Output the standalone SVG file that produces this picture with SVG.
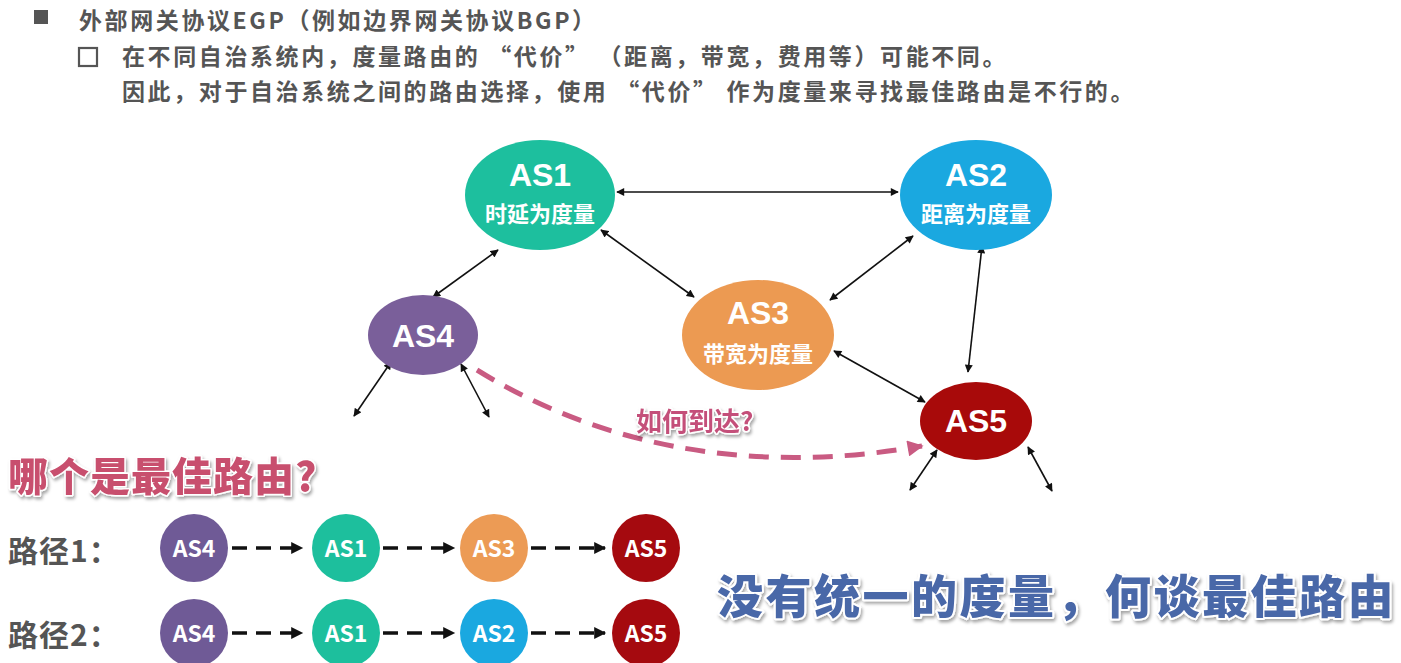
<svg xmlns="http://www.w3.org/2000/svg" width="1401" height="663" viewBox="0 0 1401 663">
<defs>
<marker id="ah" viewBox="0 0 10 10" refX="9" refY="5" markerWidth="9" markerHeight="8" markerUnits="userSpaceOnUse" orient="auto-start-reverse"><path d="M0,0 L10,5 L0,10 z" fill="#111"/></marker>
<marker id="ahp" viewBox="0 0 10 10" refX="9" refY="5" markerWidth="18" markerHeight="16" markerUnits="userSpaceOnUse" orient="auto"><path d="M0,0 L10,5 L0,10 z" fill="#c95b82"/></marker>
<marker id="ahb" viewBox="0 0 10 10" refX="9" refY="5" markerWidth="13" markerHeight="12" markerUnits="userSpaceOnUse" orient="auto"><path d="M0,0 L10,5 L0,10 z" fill="#111"/></marker>
<filter id="sh" x="-5%" y="-20%" width="110%" height="150%"><feDropShadow dx="1.5" dy="2.5" stdDeviation="1.5" flood-color="#000" flood-opacity="0.35"/></filter>
</defs>
<style>
.hd{font-family:"Noto Sans CJK SC","Noto Sans",sans-serif;font-weight:bold;fill:#555;font-size:23px;letter-spacing:2.6px}
.t1{font-family:"Liberation Sans",Arial,sans-serif;font-weight:bold;fill:#fff;font-size:32px;text-anchor:middle}
.t2{font-family:"Noto Sans CJK SC",sans-serif;font-weight:bold;fill:#fff;font-size:22px;text-anchor:middle}
.t3{font-family:"Noto Sans CJK SC","Noto Sans",sans-serif;font-weight:bold;fill:#fff;font-size:23px;text-anchor:middle}
.lk{stroke:#111;stroke-width:1.6;fill:none;marker-start:url(#ah);marker-end:url(#ah)}
.pa{stroke:#111;stroke-width:3.5;fill:none;stroke-dasharray:15 9;marker-end:url(#ahb)}
.pl{font-family:"Noto Sans CJK SC",sans-serif;font-weight:bold;fill:#555;font-size:30px;letter-spacing:1px}
.sd{paint-order:stroke;stroke:#fff;stroke-linejoin:round}
</style>
<rect width="1401" height="663" fill="#fff"/>

<g id="header">
<rect x="34" y="10" width="14" height="14" fill="#555"/>
<text class="hd" x="79" y="29" letter-spacing="2.2">外部网关协议EGP（例如边界网关协议BGP）</text>
<rect x="79" y="48" width="18" height="18" fill="none" stroke="#555" stroke-width="2.2"/>
<text class="hd" x="122" y="65">在不同自治系统内，度量路由的 “代价” （距离，带宽，费用等）可能不同。</text>
<text class="hd" x="122" y="100">因此，对于自治系统之间的路由选择，使用 “代价” 作为度量来寻找最佳路由是不行的。</text>
</g>

<g id="connectors">
<line class="lk" x1="617" y1="192" x2="898" y2="192"/>
<line class="lk" x1="498" y1="250" x2="433" y2="297"/>
<line class="lk" x1="601" y1="230" x2="694" y2="297"/>
<line class="lk" x1="913" y1="236" x2="830" y2="300"/>
<line class="lk" x1="982" y1="246" x2="968" y2="372"/>
<line class="lk" x1="834" y1="351" x2="925" y2="402"/>
<line class="lk" x1="391" y1="362" x2="354" y2="416"/>
<line class="lk" x1="461" y1="364" x2="489" y2="417"/>
<line class="lk" x1="937" y1="450" x2="910" y2="490"/>
<line class="lk" x1="1028" y1="447" x2="1052" y2="491"/>
<path d="M477,370 C590,440 740,478 922,446" stroke="#c95b82" stroke-width="5" fill="none" stroke-dasharray="20 12" marker-end="url(#ahp)"/>
<line class="pa" x1="232" y1="548" x2="302" y2="548"/>
<line class="pa" x1="383" y1="548" x2="454" y2="548"/>
<line class="pa" x1="531" y1="548" x2="605" y2="548"/>
<line class="pa" x1="232" y1="633" x2="302" y2="633"/>
<line class="pa" x1="383" y1="633" x2="454" y2="633"/>
<line class="pa" x1="531" y1="633" x2="605" y2="633"/>
</g>

<g id="AS1"><ellipse cx="540" cy="195" rx="75" ry="55" fill="#1dbf9e"/><text class="t1" x="540" y="186">AS1</text><text class="t2" x="540" y="222">时延为度量</text></g>
<g id="AS2"><ellipse cx="976" cy="195" rx="76" ry="55" fill="#1aa8e0"/><text class="t1" x="976" y="186">AS2</text><text class="t2" x="976" y="222">距离为度量</text></g>
<g id="AS3"><ellipse cx="758" cy="335" rx="76" ry="55" fill="#ec9a52"/><text class="t1" x="758" y="324">AS3</text><text class="t2" x="758" y="362">带宽为度量</text></g>
<g id="AS4"><ellipse cx="423" cy="335" rx="55" ry="40" fill="#7a5f9a"/><text class="t1" x="423" y="347">AS4</text></g>
<g id="AS5"><ellipse cx="976" cy="421" rx="56" ry="39" fill="#a80a0a"/><text class="t1" x="976" y="432">AS5</text></g>

<g id="label-reach"><text class="sd" x="636" y="431" font-family="Noto Sans CJK SC,sans-serif" font-weight="bold" font-size="26" fill="#c4507a" stroke-width="3" filter="url(#sh)">如何到达?</text></g>

<g id="question"><text class="sd" x="8" y="491" font-family="Noto Sans CJK SC,sans-serif" font-weight="900" font-size="40" fill="#c8506e" letter-spacing="1" stroke-width="3" filter="url(#sh)">哪个是最佳路由?</text></g>

<g id="path1">
<text class="pl" x="8" y="562">路径1：</text>
<circle cx="194" cy="548" r="34" fill="#6f5a96"/><text class="t3" x="194" y="557">AS4</text>
<circle cx="346" cy="548" r="34" fill="#1dbf9d"/><text class="t3" x="346" y="557">AS1</text>
<circle cx="494" cy="548" r="34" fill="#ec9b55"/><text class="t3" x="494" y="557">AS3</text>
<circle cx="646" cy="548" r="34" fill="#a50a0f"/><text class="t3" x="646" y="557">AS5</text>
</g>
<g id="path2">
<text class="pl" x="8" y="646">路径2：</text>
<circle cx="194" cy="633" r="34" fill="#6f5a96"/><text class="t3" x="194" y="642">AS4</text>
<circle cx="346" cy="633" r="34" fill="#1dbf9d"/><text class="t3" x="346" y="642">AS1</text>
<circle cx="494" cy="633" r="34" fill="#1aa8e0"/><text class="t3" x="494" y="642">AS2</text>
<circle cx="646" cy="633" r="34" fill="#a50a0f"/><text class="t3" x="646" y="642">AS5</text>
</g>

<g id="conclusion"><text class="sd" x="717" y="613" font-family="Noto Sans CJK SC,sans-serif" font-weight="900" font-size="46" fill="#4a67a8" letter-spacing="2.5" stroke-width="4" filter="url(#sh)">没有统一的度量，何谈最佳路由</text></g>
</svg>
